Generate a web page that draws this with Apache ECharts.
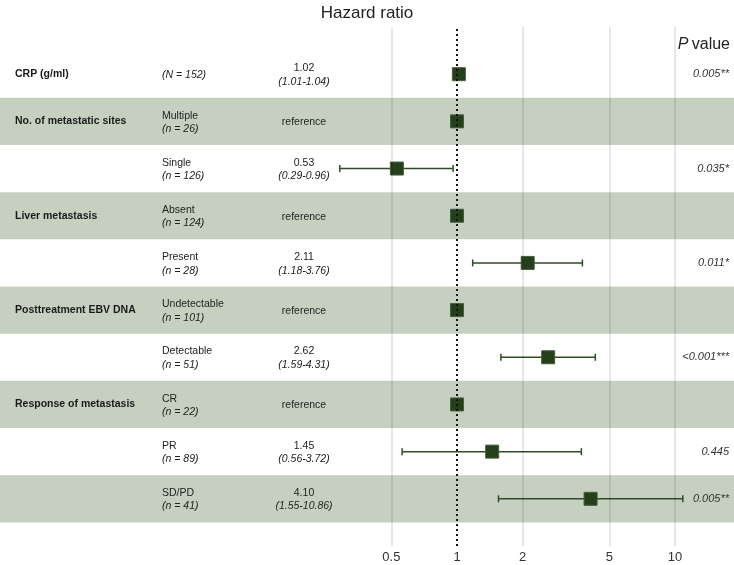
<!DOCTYPE html>
<html>
<head>
<meta charset="utf-8">
<script src="https://cdn.jsdelivr.net/npm/echarts@6/dist/echarts.min.js"></script>
<style>html,body{margin:0;padding:0;background:#fff}#c{width:734px;height:565px}</style>
</head>
<body>
<div id="c"></div>
<script>
// ---- data ----
const variables = ['CRP (g/ml)', 'No. of metastatic sites', '', 'Liver metastasis', '', 'Posttreatment EBV DNA', '', 'Response of metastasis', '', ''];
const subgroups = ['', 'Multiple', 'Single', 'Absent', 'Present', 'Undetectable', 'Detectable', 'CR', 'PR', 'SD/PD'];
const counts = ['(N = 152)', '(n = 26)', '(n = 126)', '(n = 124)', '(n = 28)', '(n = 101)', '(n = 51)', '(n = 22)', '(n = 89)', '(n = 41)'];
const hr = [1.02, 1, 0.53, 1, 2.11, 1, 2.62, 1, 1.45, 4.10];
const lower = [1.01, null, 0.29, null, 1.18, null, 1.59, null, 0.56, 1.55];
const upper = [1.04, null, 0.96, null, 3.76, null, 4.31, null, 3.72, 10.86];
const isReference = [false, true, false, true, false, true, false, true, false, false];
const pValues = ['0.005**', '', '0.035*', '', '0.011*', '', '<0.001***', '', '0.445', '0.005**'];
const tickValues = [0.5, 1, 2, 5, 10];

// ---- chart ----
const X_MIN = 0.00801, X_MAX = 18.65;
const chart = echarts.init(document.getElementById('c'), null, {renderer: 'canvas'});
const FONT = 'Liberation Sans, Arial, Helvetica, sans-serif';
const FS = 10.5;

const bandAreas = [];
for (let i = 0; i < hr.length; i++) {
  if (i % 2 === 1) bandAreas.push([{coord: [X_MIN, i - 0.5]}, {coord: [X_MAX, i + 0.5]}]);
}
const gridLines = tickValues.filter(v => v !== 1).map(v => [
  {coord: [v, 10], label: {formatter: String(v)}},
  {coord: [v, -1]}
]);
const refLine = [[{coord: [1, 10], label: {formatter: '1'}}, {coord: [1, -1]}]];

const ciData = [];
hr.forEach((v, i) => { if (lower[i] != null) ciData.push([i, lower[i], upper[i]]); });
const pointData = hr.map((v, i) => [v, i]);

chart.setOption({
  animation: false,
  textStyle: {fontFamily: FONT},
  grid: {left: 0, right: 0, top: 27, bottom: 19},
  xAxis: {type: 'log', min: X_MIN, max: X_MAX, show: false},
  yAxis: {type: 'value', inverse: true, min: -1, max: 10, show: false},
  title: {
    text: 'Hazard ratio', left: 'center', top: 0,
    textStyle: {fontFamily: FONT, fontSize: 17, fontWeight: 'normal', color: '#222'}
  },
  series: [
    {
      type: 'line', data: [], z: 1, silent: true,
      markArea: {silent: true, itemStyle: {color: '#c6d0c1'}, data: bandAreas}
    },
    {
      type: 'line', data: [], z: 2, silent: true,
      markLine: {
        silent: true, symbol: ['none', 'none'],
        lineStyle: {color: 'rgba(0,0,0,0.13)', width: 1.5, type: 'solid'},
        label: {position: 'start', distance: 5, color: '#333', fontSize: 13, fontFamily: FONT},
        emphasis: {disabled: true},
        data: gridLines
      }
    },
    {
      type: 'custom', z: 3, silent: true,
      data: ciData,
      renderItem: function (params, api) {
        const y = api.value(0);
        const a = api.coord([api.value(1), y]);
        const b = api.coord([api.value(2), y]);
        const h = 3.5;
        const st = {stroke: '#2f4a25', lineWidth: 1.5};
        return {
          type: 'group',
          children: [
            {type: 'line', shape: {x1: a[0], y1: a[1], x2: b[0], y2: b[1]}, style: st},
            {type: 'line', shape: {x1: a[0], y1: a[1] - h, x2: a[0], y2: a[1] + h}, style: st},
            {type: 'line', shape: {x1: b[0], y1: b[1] - h, x2: b[0], y2: b[1] + h}, style: st}
          ]
        };
      }
    },
    {
      type: 'scatter', z: 4, silent: true,
      symbol: 'rect', symbolSize: 13,
      itemStyle: {color: '#243f1a', borderColor: '#455e3b', borderWidth: 1, opacity: 1},
      data: pointData
    },
    {
      type: 'line', data: [], z: 5, silent: true,
      markLine: {
        silent: true, symbol: ['none', 'none'],
        lineStyle: {color: '#111', width: 2, type: [2, 3]},
        label: {position: 'start', distance: 5, color: '#333', fontSize: 13, fontFamily: FONT},
        emphasis: {disabled: true},
        data: refLine
      }
    }
  ]
});

// ---- text columns ----
const graphics = [];
const rowY = i => chart.convertToPixel({gridIndex: 0}, [1, i])[1];
const base = {fontFamily: FONT, fontSize: FS, fill: '#222'};
const Z = 100;
hr.forEach((v, i) => {
  const y = rowY(i);
  if (variables[i]) {
    graphics.push({type: 'text', z: Z, x: 15, y: y, style: Object.assign({}, base, {text: variables[i], fontWeight: 'bold', fill: '#1a1a1a', verticalAlign: 'middle', align: 'left'})});
  }
  const sub = subgroups[i] ? '{n|' + subgroups[i] + '}\n{i|' + counts[i] + '}' : '{i|' + counts[i] + '}';
  graphics.push({type: 'text', z: Z, x: 162, y: y + 1, style: Object.assign({}, base, {
    text: sub, verticalAlign: 'middle', align: 'left',
    rich: {n: {fontFamily: FONT, fontSize: FS, fill: '#222', lineHeight: 13.5}, i: {fontFamily: FONT, fontSize: FS, fontStyle: 'italic', fill: '#222', lineHeight: 13.5}}
  })});
  const est = isReference[i] ? '{n|reference}' :
    '{n|' + hr[i].toFixed(2) + '}\n{i|(' + lower[i].toFixed(2) + '-' + upper[i].toFixed(2) + ')}';
  graphics.push({type: 'text', z: Z, x: 304, y: y + 1, style: Object.assign({}, base, {
    text: est, verticalAlign: 'middle', align: 'center',
    rich: {n: {fontFamily: FONT, fontSize: FS, fill: '#222', lineHeight: 13.5, align: 'center'}, i: {fontFamily: FONT, fontSize: FS, fontStyle: 'italic', fill: '#222', lineHeight: 13.5, align: 'center'}}
  })});
  if (pValues[i]) {
    graphics.push({type: 'text', z: Z, x: 729, y: y, style: Object.assign({}, base, {text: pValues[i], fontSize: 11, fontStyle: 'italic', fill: '#333', verticalAlign: 'middle', align: 'right'})});
  }
});
graphics.push({type: 'text', z: Z, x: 730, y: 45, style: {
  text: '{p|P} {v|value}', align: 'right', verticalAlign: 'middle',
  rich: {p: {fontFamily: FONT, fontSize: 16, fontStyle: 'italic', fill: '#222'}, v: {fontFamily: FONT, fontSize: 16, fill: '#222'}}
}});
chart.setOption({graphic: graphics});
</script>
</body>
</html>
